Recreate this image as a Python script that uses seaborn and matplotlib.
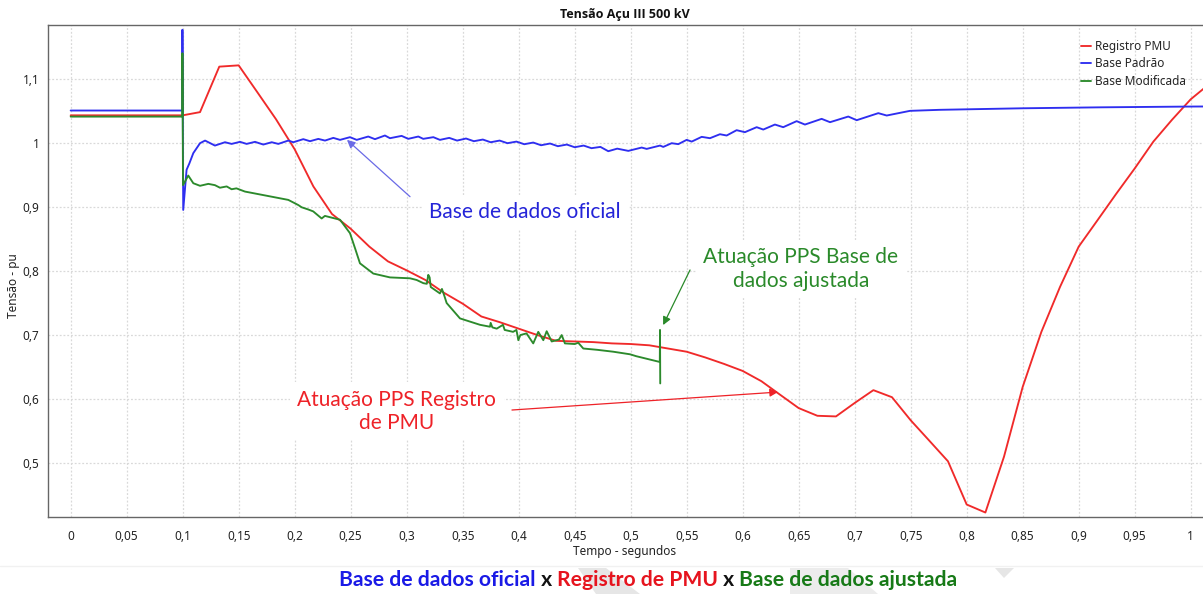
import matplotlib
matplotlib.use("Agg")
import matplotlib.pyplot as plt
import matplotlib.ticker as mticker
from matplotlib.offsetbox import TextArea, HPacker, AnchoredOffsetbox
from matplotlib.patches import Polygon
import numpy as np
import pandas as pd
import seaborn as sns

# ---- series (tempo em segundos, tensão em pu) ----
red_t = [0.0, 0.1000, 0.1155, 0.1327, 0.1500, 0.1667, 0.1833, 0.2000, 0.2167, 0.2333,
         0.2500, 0.2667, 0.2833, 0.3000, 0.3167, 0.3333, 0.3500, 0.3667, 0.3833, 0.4000,
         0.4167, 0.4333, 0.4500, 0.4667, 0.4833, 0.5000, 0.5167, 0.5333, 0.5500, 0.5667,
         0.5833, 0.6000, 0.6167, 0.6333, 0.6500, 0.6667, 0.6833, 0.7000, 0.7167, 0.7333,
         0.7500, 0.7667, 0.7833, 0.8000, 0.8167, 0.8333, 0.8500, 0.8667, 0.8833, 0.9000,
         0.9167, 0.9333, 0.9500, 0.9667, 0.9833, 1.0000, 1.0167]
red_v = [1.043, 1.043, 1.048, 1.119, 1.121, 1.079, 1.037, 0.990, 0.932, 0.889,
         0.866, 0.838, 0.815, 0.801, 0.786, 0.766, 0.749, 0.729, 0.720, 0.710,
         0.700, 0.691, 0.690, 0.689, 0.687, 0.686, 0.684, 0.679, 0.674, 0.665,
         0.655, 0.644, 0.628, 0.607, 0.586, 0.574, 0.573, 0.594, 0.614, 0.603,
         0.567, 0.535, 0.503, 0.4355, 0.423, 0.510, 0.619, 0.705, 0.775, 0.838,
         0.879, 0.920, 0.960, 1.002, 1.036, 1.068, 1.092]

blue_t = [0.0, 0.0997, 0.0998, 0.1005, 0.1035, 0.1060, 0.1095, 0.1155, 0.1200, 0.1288,
          0.1378, 0.1437, 0.1512, 0.1571, 0.1646, 0.1720, 0.1795, 0.1854, 0.1943, 0.1988,
          0.2077, 0.2137, 0.2211, 0.2271, 0.2345, 0.2405, 0.2494, 0.2554, 0.2657, 0.2717,
          0.2806, 0.2851, 0.2955, 0.3014, 0.3104, 0.3148, 0.3238, 0.3297, 0.3380, 0.3450,
          0.3530, 0.3600, 0.3680, 0.3750, 0.3830, 0.3900, 0.3980, 0.4050, 0.4130, 0.4200,
          0.4280, 0.4350, 0.4430, 0.4500, 0.4580, 0.4650, 0.4730, 0.4800, 0.4880, 0.4979,
          0.5098, 0.5143, 0.5262, 0.5291, 0.5366, 0.5425, 0.5500, 0.5545, 0.5634, 0.5708,
          0.5797, 0.5857, 0.5946, 0.6020, 0.6125, 0.6184, 0.6288, 0.6362, 0.6482, 0.6556,
          0.6705, 0.6780, 0.6943, 0.7018, 0.7211, 0.7286, 0.7494, 0.7760, 0.8500, 0.9200,
          1.0000, 1.0120]
blue_v = [1.0505, 1.0505, 1.1766, 0.8953, 0.958, 0.968, 0.984, 0.9995, 1.0036, 0.9958,
          1.001, 0.9984, 1.0016, 0.9984, 1.0016, 0.9974, 1.001, 0.9984, 1.0036, 1.001,
          1.0058, 1.0026, 1.0062, 1.0036, 1.0078, 1.0047, 1.0089, 1.0047, 1.0099, 1.0058,
          1.0115, 1.0073, 1.0109, 1.0063, 1.0099, 1.0063, 1.0089, 1.0047, 1.0078, 1.0036,
          1.0068, 1.0026, 1.0052, 1.0010, 1.0036, 0.9995, 1.0020, 0.9979, 1.0005, 0.9963,
          0.9990, 0.9948, 0.9974, 0.9932, 0.9958, 0.9917, 0.9937, 0.9870, 0.9910, 0.9875,
          0.9927, 0.9906, 0.9958, 0.9937, 0.9995, 0.998, 1.0047, 1.002, 1.0094, 1.0073,
          1.0135, 1.0115, 1.0198, 1.0167, 1.0245, 1.0208, 1.0286, 1.0245, 1.0339, 1.0286,
          1.0375, 1.0323, 1.0411, 1.0354, 1.0464, 1.0427, 1.05, 1.0516, 1.054, 1.0555,
          1.0567, 1.0568]

green_t = [0.0, 0.0997, 0.0998, 0.1003, 0.1050, 0.1095, 0.1155, 0.1229, 0.1288, 0.1333,
           0.1393, 0.1437, 0.1480, 0.1556, 0.1675, 0.1824, 0.1943, 0.2032, 0.2062, 0.2122,
           0.2166, 0.2241, 0.2270, 0.2360, 0.2405, 0.2494, 0.2540, 0.2583, 0.2702, 0.2851,
           0.3030, 0.3089, 0.3149, 0.3180, 0.3193, 0.3205, 0.3215, 0.3297, 0.3315, 0.3335,
           0.3357, 0.3476, 0.3655, 0.3744, 0.3750, 0.3765, 0.3804, 0.3860, 0.3875, 0.3950,
           0.3980, 0.3997, 0.4015, 0.4070, 0.4130, 0.4175, 0.4220, 0.4250, 0.4295, 0.4360,
           0.4384, 0.4413, 0.4500, 0.4532, 0.4577, 0.4700, 0.4845, 0.4994, 0.5050, 0.5260,
           0.5262, 0.5264]
green_v = [1.041, 1.041, 1.140, 0.934, 0.949, 0.937, 0.933, 0.936, 0.934, 0.930,
           0.932, 0.9276, 0.929, 0.924, 0.920, 0.915, 0.911, 0.903, 0.8995, 0.896,
           0.893, 0.882, 0.886, 0.882, 0.880, 0.859, 0.835, 0.812, 0.796, 0.790,
           0.7886, 0.786, 0.781, 0.780, 0.794, 0.790, 0.775, 0.765, 0.772, 0.762,
           0.750, 0.726, 0.716, 0.713, 0.719, 0.712, 0.710, 0.716, 0.708, 0.705,
           0.708, 0.692, 0.700, 0.7026, 0.687, 0.705, 0.692, 0.706, 0.690, 0.693,
           0.700, 0.687, 0.686, 0.688, 0.679, 0.677, 0.674, 0.670, 0.667, 0.658,
           0.708, 0.6245]

series_names = ["Registro PMU", "Base Padrão", "Base Modificada"]
series_colors = ["#f02a2a", "#2e2ef0", "#2c8a2c"]

x_ticks = [round(0.05 * i, 2) for i in range(21)]
y_ticks = [0.5, 0.6, 0.7, 0.8, 0.9, 1.0, 1.1]

title_text = "Tensão Açu III 500 kV"
x_label = "Tempo - segundos"
y_label = "Tensão - pu"

# ---- data frame ----
frames = []
for name, t, v in zip(series_names, [red_t, blue_t, green_t], [red_v, blue_v, green_v]):
    frames.append(pd.DataFrame({"Tempo": t, "Tensão": v, "Série": name}))
df = pd.concat(frames, ignore_index=True)

# ---- style ----
sns.set_style("white")
plt.rcParams["font.family"] = ["Noto Sans", "DejaVu Sans"]

W, H = 1203, 594
fig = plt.figure(figsize=(W / 100, H / 100), dpi=100)
ax_left, ax_right, ax_top, ax_bottom = 47.7, 1203, 25, 517
ax = fig.add_axes([ax_left / W, 1 - ax_bottom / H, (ax_right - ax_left) / W, (ax_bottom - ax_top) / H])

sns.lineplot(data=df, x="Tempo", y="Tensão", hue="Série", hue_order=series_names,
             palette=dict(zip(series_names, series_colors)), estimator=None, sort=False,
             linewidth=1.35, ax=ax, zorder=3)

ax.set_xlim(-0.0205, 1.011)
ax.set_ylim(0.416, 1.184)

def comma_fmt(v, pos=None):
    return f"{round(v, 2):g}".replace(".", ",")

ax.xaxis.set_major_locator(mticker.FixedLocator(x_ticks))
ax.xaxis.set_minor_locator(mticker.MultipleLocator(0.01))
ax.yaxis.set_major_locator(mticker.FixedLocator(y_ticks))
ax.yaxis.set_minor_locator(mticker.MultipleLocator(0.01))
ax.xaxis.set_major_formatter(mticker.FuncFormatter(comma_fmt))
ax.yaxis.set_major_formatter(mticker.FuncFormatter(comma_fmt))

ax.tick_params(axis="both", which="major", direction="out", length=3.5, width=0.8,
               color="#555555", labelsize=8.5, labelcolor="#222222")
ax.tick_params(axis="both", which="minor", direction="out", length=2.5, width=0.8,
               color="#555555")
ax.tick_params(axis="x", which="major", pad=5.5)
ax.tick_params(axis="y", which="major", pad=2.5)

ax.grid(True, which="major", color="#d9d9d9", linestyle=(0, (1.5, 1.5)), linewidth=0.9)
ax.set_axisbelow(True)
for side in ["left", "bottom", "top"]:
    ax.spines[side].set_color("#666666")
    ax.spines[side].set_linewidth(1.0)
ax.spines["right"].set_visible(False)

ax.set_xlabel(x_label, fontsize=8.5, color="#222222")
ax.set_ylabel(y_label, fontsize=8.5, color="#222222")
ax.xaxis.set_label_coords((625 - ax_left) / (ax_right - ax_left), -(551 - ax_bottom) / (ax_bottom - ax_top))
ax.yaxis.set_label_coords(-(ax_left - 14) / (ax_right - ax_left), 0.47)
ax.xaxis.label.set_va("center")
ax.yaxis.label.set_va("center")
ax.set_title(title_text, fontsize=9, fontweight="bold", color="#111111", pad=5,
             family=["Open Sans", "DejaVu Sans"])

handles, labels = ax.get_legend_handles_labels()
ax.legend(handles, labels, loc="upper left", bbox_to_anchor=(0.8945, 0.97),
          frameon=False, fontsize=8.5, handlelength=0.85, handletextpad=0.3,
          labelspacing=0.38, borderpad=0, borderaxespad=0)

# ---- annotations ----
ann_font = ["Lato", "DejaVu Sans"]
box = dict(boxstyle="square,pad=0.35", fc="white", ec="none")
ann_size = 15

ax.text(0.4056, 0.892, "Base de dados oficial", color="#2424d8", fontsize=ann_size,
        family=ann_font, ha="center", va="center", bbox=box, zorder=4)
ax.annotate("", xy=(0.2467, 1.0047), xytext=(0.303, 0.916),
            arrowprops=dict(arrowstyle="-|>", color="#6a6ae6", lw=0.9,
                            mutation_scale=12, shrinkA=0, shrinkB=0), zorder=5)

ax.text(0.652, 0.803, "Atuação PPS Base de\ndados ajustada", color="#2a8a2a", fontsize=ann_size,
        family=ann_font, ha="center", va="center", linespacing=1.2, bbox=box, zorder=4)
ax.annotate("", xy=(0.529, 0.7156), xytext=(0.553, 0.8016),
            arrowprops=dict(arrowstyle="-|>", color="#2a8a2a", lw=0.9,
                            mutation_scale=12, shrinkA=0, shrinkB=0), zorder=5)

ax.text(0.2913, 0.581, "Atuação PPS Registro\nde PMU", color="#ee2228", fontsize=ann_size,
        family=ann_font, ha="center", va="center", linespacing=1.2, bbox=box, zorder=4)
ax.annotate("", xy=(0.6315, 0.611), xytext=(0.394, 0.583),
            arrowprops=dict(arrowstyle="-|>", color="#ee2228", lw=0.9,
                            mutation_scale=12, shrinkA=0, shrinkB=0), zorder=5)

# ---- light background chevrons at the bottom ----
def px_poly(pts, color):
    fig_pts = [(x / W, 1 - y / H) for x, y in pts]
    fig.patches.append(Polygon(fig_pts, closed=True, transform=fig.transFigure,
                               fc=color, ec="none", zorder=0))

fig.add_artist(plt.Line2D([0, 1], [1 - 566 / H, 1 - 566 / H], transform=fig.transFigure,
                          color="#f1f1f1", lw=1, zorder=0))
px_poly([(578, 568), (606, 568), (640, 594), (596, 594)], "#e6e6e6")
px_poly([(790, 568), (848, 568), (878, 594), (790, 594)], "#ececec")
px_poly([(995, 568), (1014, 568), (1004, 578)], "#e6e6e6")

# ---- caption ----
caption_parts = [("Base de dados oficial", "#1a1ae6"), (" x ", "#111111"),
                 ("Registro de PMU", "#e6141e"), (" x ", "#111111"),
                 ("Base de dados ajustada", "#177a17")]
areas = [TextArea(txt, textprops=dict(color=c, fontsize=15.2, fontweight="bold",
                                      family=ann_font))
         for txt, c in caption_parts]
pack = HPacker(children=areas, align="baseline", pad=0, sep=0)
anchored = AnchoredOffsetbox(loc="center", child=pack, frameon=False, pad=0, borderpad=0,
                             bbox_to_anchor=(648.5 / W, 1 - 580 / H),
                             bbox_transform=fig.transFigure)
fig.add_artist(anchored)

fig.savefig("out.png", dpi=100)
